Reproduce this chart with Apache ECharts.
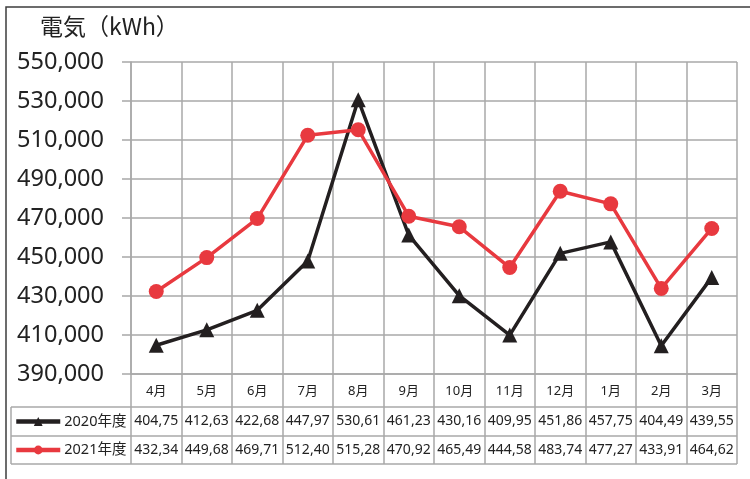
<!DOCTYPE html>
<html>
<head>
<meta charset="utf-8">
<script src="https://cdn.jsdelivr.net/npm/echarts@6/dist/echarts.min.js"></script>
<style>
html,body{margin:0;padding:0;background:#fff;}
#c{width:750px;height:479px;}
</style>
</head>
<body>
<div id="c"></div>
<script>
const months = ['4月','5月','6月','7月','8月','9月','10月','11月','12月','1月','2月','3月'];
const seriesNames = ['2020年度','2021年度'];
const values2020 = [404750, 412630, 422680, 447970, 530610, 461230, 430160, 409950, 451860, 457750, 404490, 439550];
const values2021 = [432340, 449680, 469710, 512400, 515280, 470920, 465490, 444580, 483740, 477270, 433910, 464620];
const yMin = 390000, yMax = 550000, yStep = 20000;

const FONT = '"Noto Sans", "Noto Sans CJK JP", sans-serif';
const GRID = '#a8a8a8';
const BLACK = '#231f20';
const RED = '#e8393f';

// Excel-style truncated cell text (column too narrow): "404,75"
function cellText(v){ const s = String(v); return s.slice(0,3) + ',' + s.slice(3,5); }

const chart = echarts.init(document.getElementById('c'), null, {renderer:'canvas'});

function tableAxis(vals, offset){
  return {
    type:'category', data: months, gridIndex:0, position:'bottom', offset: offset,
    boundaryGap:true,
    axisLine:{show:false}, axisTick:{show:false}, splitLine:{show:false},
    axisLabel:{show:true, interval:0, margin:0, verticalAlign:'middle',
      fontSize:14, color:'#222', fontFamily:FONT,
      formatter:(val, idx)=>cellText(vals[idx])}
  };
}

function legendRow(name, top){
  return {data:[name], orient:'vertical', left:14, top:top, padding:0, itemWidth:44, itemHeight:11, itemGap:0,
    lineStyle:{width:4.5},
    textStyle:{fontSize:14.5, color:'#222', fontFamily:FONT, lineHeight:16, padding:[0,0,0,-1]}};
}

const option = {
  backgroundColor:'#fff',
  animation:false,
  title:{text:'電気（kWh）', left:35, top:10,
    textStyle:{fontSize:23, fontWeight:'normal', color:'#222', fontFamily:'"Noto Sans CJK JP", sans-serif'}},
  grid:{left:131, right:13, top:62, bottom:105, containLabel:false},
  legend:[ legendRow(seriesNames[0], 413.5), legendRow(seriesNames[1], 442) ],
  xAxis:[
    {type:'category', data:months, boundaryGap:true,
      axisLine:{show:true, lineStyle:{color:GRID, width:1.5}},
      axisTick:{show:true, length:90, alignWithLabel:false, lineStyle:{color:GRID, width:1.5}},
      splitLine:{show:true, interval:0, lineStyle:{color:GRID, width:1.5}},
      axisLabel:{interval:0, margin:17, verticalAlign:'middle', fontSize:13, color:'#222', fontFamily:FONT}
    },
    tableAxis(values2020, 47.5),
    tableAxis(values2021, 76)
  ],
  yAxis:{type:'value', min:yMin, max:yMax, interval:yStep,
    axisLine:{show:true, lineStyle:{color:GRID, width:1.5}},
    axisTick:{show:true, length:9, lineStyle:{color:GRID, width:1.5}},
    splitLine:{show:true, lineStyle:{color:GRID, width:1.5}},
    axisLabel:{margin:27, fontSize:23.5, color:'#222', fontFamily:FONT,
      formatter:v=>v.toLocaleString('en-US')}
  },
  graphic:[
    {type:'rect', shape:{x:6, y:7, width:900, height:600}, style:{fill:'none', stroke:'#3c3c3c', lineWidth:1.5}, silent:true, z:100},
    {type:'line', shape:{x1:11, y1:407, x2:737, y2:407}, style:{stroke:GRID, lineWidth:1.5}, silent:true},
    {type:'line', shape:{x1:11, y1:436, x2:737, y2:436}, style:{stroke:GRID, lineWidth:1.5}, silent:true},
    {type:'line', shape:{x1:11, y1:464, x2:737, y2:464}, style:{stroke:GRID, lineWidth:1.5}, silent:true},
    {type:'line', shape:{x1:11, y1:407, x2:11, y2:464}, style:{stroke:GRID, lineWidth:1.5}, silent:true}
  ],
  series:[
    {name:seriesNames[0], type:'line', data:values2020, symbol:'triangle', symbolSize:15,
      lineStyle:{color:BLACK, width:3.5}, itemStyle:{color:BLACK}, z:3},
    {name:seriesNames[1], type:'line', data:values2021, symbol:'circle', symbolSize:15,
      lineStyle:{color:RED, width:3.5}, itemStyle:{color:RED}, z:4}
  ]
};
chart.setOption(option);
</script>
</body>
</html>
